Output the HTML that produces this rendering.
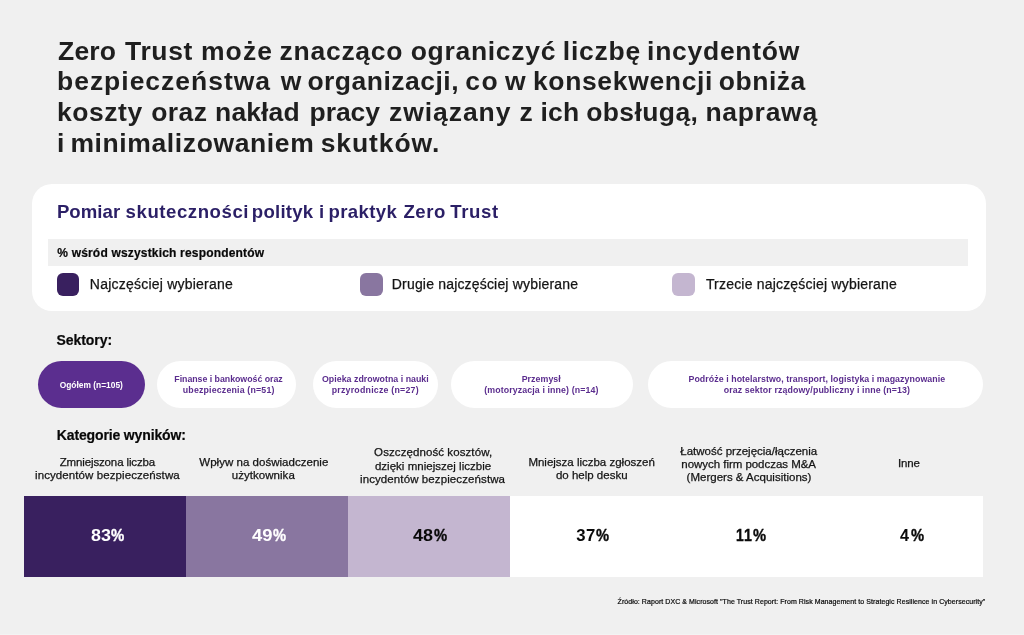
<!DOCTYPE html>
<html lang="pl">
<head>
<meta charset="utf-8">
<title>Zero Trust</title>
<style>
html,body{margin:0;padding:0}
body{width:1024px;height:635px;background:#f0f0f0;position:relative;overflow:hidden;font-family:"Liberation Sans",sans-serif}
.t{position:absolute;white-space:pre;line-height:1;font-kerning:normal}
.b{position:absolute}
.w{margin:0;padding:0;font:inherit;list-style:none;display:block}
.card{left:31.5px;top:183.5px;width:954.5px;height:127.2px;background:#fff;border-radius:20px}
.strip{left:48px;top:238.6px;width:920px;height:27px;background:#f0f0f0}
.sw{width:22.8px;height:22.7px;top:273.1px;border-radius:6px}
.pill{top:361.2px;height:46.6px;border-radius:24px;background:#fff}
.bar{top:495.5px;height:81.2px}
</style>
</head>
<body>
<div class="b card"></div>
<div class="b strip"></div>
<div class="b sw" style="left:56.7px;background:#39205f"></div>
<div class="b sw" style="left:359.8px;background:#8976a0"></div>
<div class="b sw" style="left:672.1px;background:#c4b6d0"></div>
<div class="b pill" style="left:38.4px;width:107px;background:#5b2e8f"></div>
<div class="b pill" style="left:157.2px;width:138.9px"></div>
<div class="b pill" style="left:312.6px;width:125px"></div>
<div class="b pill" style="left:451.1px;width:181.9px"></div>
<div class="b pill" style="left:647.7px;width:335.1px"></div>
<div class="b bar" style="left:24.4px;width:161.6px;background:#39205f"></div>
<div class="b bar" style="left:186px;width:161.6px;background:#8976a0"></div>
<div class="b bar" style="left:347.6px;width:162.8px;background:#c4b6d0"></div>
<div class="b bar" style="left:510.4px;width:473px;background:#fff"></div>
<div class="b" style="left:0;top:634px;width:1024px;height:1px;background:#f3f3f3"></div>
<h1 class="w">
<span class="t" style="left:58.10px;top:36px;line-height:30px;font-size:26.5px;font-weight:700;color:#1f1f1f;letter-spacing:0.154px">Zero </span>
<span class="t" style="left:125.00px;top:36px;line-height:30px;font-size:26.5px;font-weight:700;color:#1f1f1f;letter-spacing:0.659px">Trust </span>
<span class="t" style="left:200.90px;top:36px;line-height:30px;font-size:26.5px;font-weight:700;color:#1f1f1f;letter-spacing:1.133px">może </span>
<span class="t" style="left:279.60px;top:36px;line-height:30px;font-size:26.5px;font-weight:700;color:#1f1f1f;letter-spacing:0.723px">znacząco </span>
<span class="t" style="left:410.70px;top:36px;line-height:30px;font-size:26.5px;font-weight:700;color:#1f1f1f;letter-spacing:0.700px">ograniczyć </span>
<span class="t" style="left:562.75px;top:36px;line-height:30px;font-size:26.5px;font-weight:700;color:#1f1f1f;letter-spacing:0.770px">liczbę </span>
<span class="t" style="left:647.10px;top:36px;line-height:30px;font-size:26.5px;font-weight:700;color:#1f1f1f;letter-spacing:0.717px">incydentów</span>
<span class="t" style="left:57.00px;top:66px;line-height:30px;font-size:26.5px;font-weight:700;color:#1f1f1f;letter-spacing:0.981px">bezpieczeństwa </span>
<span class="t" style="left:280.85px;top:66px;line-height:30px;font-size:26.5px;font-weight:700;color:#1f1f1f;">w </span>
<span class="t" style="left:307.40px;top:66px;line-height:30px;font-size:26.5px;font-weight:700;color:#1f1f1f;letter-spacing:0.489px">organizacji, </span>
<span class="t" style="left:465.20px;top:66px;line-height:30px;font-size:26.5px;font-weight:700;color:#1f1f1f;letter-spacing:1.562px">co </span>
<span class="t" style="left:505.05px;top:66px;line-height:30px;font-size:26.5px;font-weight:700;color:#1f1f1f;">w </span>
<span class="t" style="left:532.90px;top:66px;line-height:30px;font-size:26.5px;font-weight:700;color:#1f1f1f;letter-spacing:0.658px">konsekwencji </span>
<span class="t" style="left:718.70px;top:66px;line-height:30px;font-size:26.5px;font-weight:700;color:#1f1f1f;letter-spacing:0.545px">obniża</span>
<span class="t" style="left:57.10px;top:97px;line-height:30px;font-size:26.5px;font-weight:700;color:#1f1f1f;letter-spacing:0.512px">koszty </span>
<span class="t" style="left:151.20px;top:97px;line-height:30px;font-size:26.5px;font-weight:700;color:#1f1f1f;letter-spacing:0.421px">oraz </span>
<span class="t" style="left:215.10px;top:97px;line-height:30px;font-size:26.5px;font-weight:700;color:#1f1f1f;letter-spacing:0.107px">nakład </span>
<span class="t" style="left:309.50px;top:97px;line-height:30px;font-size:26.5px;font-weight:700;color:#1f1f1f;letter-spacing:-0.044px">pracy </span>
<span class="t" style="left:389.10px;top:97px;line-height:30px;font-size:26.5px;font-weight:700;color:#1f1f1f;letter-spacing:0.923px">związany </span>
<span class="t" style="left:519.55px;top:97px;line-height:30px;font-size:26.5px;font-weight:700;color:#1f1f1f;">z </span>
<span class="t" style="left:540.40px;top:97px;line-height:30px;font-size:26.5px;font-weight:700;color:#1f1f1f;letter-spacing:0.300px">ich </span>
<span class="t" style="left:586.20px;top:97px;line-height:30px;font-size:26.5px;font-weight:700;color:#1f1f1f;letter-spacing:0.402px">obsługą, </span>
<span class="t" style="left:705.40px;top:97px;line-height:30px;font-size:26.5px;font-weight:700;color:#1f1f1f;letter-spacing:0.704px">naprawą</span>
<span class="t" style="left:56.95px;top:128px;line-height:30px;font-size:26.5px;font-weight:700;color:#1f1f1f;">i </span>
<span class="t" style="left:70.40px;top:128px;line-height:30px;font-size:26.5px;font-weight:700;color:#1f1f1f;letter-spacing:0.615px">minimalizowaniem </span>
<span class="t" style="left:320.70px;top:128px;line-height:30px;font-size:26.5px;font-weight:700;color:#1f1f1f;letter-spacing:0.894px">skutków.</span>
</h1>
<h2 class="w">
<span class="t" style="left:56.90px;top:201px;line-height:21px;font-size:18.6px;font-weight:700;color:#2b1f66;letter-spacing:0.060px">Pomiar </span>
<span class="t" style="left:125.60px;top:201px;line-height:21px;font-size:18.6px;font-weight:700;color:#2b1f66;letter-spacing:0.554px">skuteczności </span>
<span class="t" style="left:251.85px;top:201px;line-height:21px;font-size:18.6px;font-weight:700;color:#2b1f66;letter-spacing:0.228px">polityk </span>
<span class="t" style="left:319.10px;top:201px;line-height:21px;font-size:18.6px;font-weight:700;color:#2b1f66;">i </span>
<span class="t" style="left:328.40px;top:201px;line-height:21px;font-size:18.6px;font-weight:700;color:#2b1f66;letter-spacing:0.399px">praktyk </span>
<span class="t" style="left:403.40px;top:201px;line-height:21px;font-size:18.6px;font-weight:700;color:#2b1f66;letter-spacing:0.555px">Zero </span>
<span class="t" style="left:450.30px;top:201px;line-height:21px;font-size:18.6px;font-weight:700;color:#2b1f66;letter-spacing:0.608px">Trust</span>
</h2>
<p class="w">
<span class="t" style="left:57.30px;top:246px;line-height:14px;font-size:12px;font-weight:700;color:#080808;letter-spacing:0.179px;-webkit-text-stroke:0.2px">% wśród wszystkich respondentów</span>
</p>
<ul class="w">
<span class="t" style="left:89.80px;top:276px;line-height:16px;font-size:14px;font-weight:400;color:#141414;letter-spacing:0.224px;-webkit-text-stroke:0.25px">Najczęściej wybierane</span>
<span class="t" style="left:391.80px;top:276px;line-height:16px;font-size:14px;font-weight:400;color:#141414;letter-spacing:0.181px;-webkit-text-stroke:0.25px">Drugie najczęściej wybierane</span>
<span class="t" style="left:705.90px;top:276px;line-height:16px;font-size:14px;font-weight:400;color:#141414;letter-spacing:0.194px;-webkit-text-stroke:0.25px">Trzecie najczęściej wybierane</span>
</ul>
<h3 class="w">
<span class="t" style="left:56.60px;top:332px;line-height:16px;font-size:14px;font-weight:700;color:#080808;letter-spacing:-0.080px;-webkit-text-stroke:0.2px">Sektory:</span>
</h3>
<h3 class="w">
<span class="t" style="left:56.80px;top:427px;line-height:16px;font-size:14px;font-weight:700;color:#080808;letter-spacing:-0.142px;-webkit-text-stroke:0.2px">Kategorie wyników:</span>
</h3>
<nav class="w">
<span class="t" style="left:59.70px;top:380px;line-height:10px;font-size:8.4px;font-weight:700;color:#ffffff;letter-spacing:0.010px">Ogółem (n=105)</span>
<span class="t" style="left:174.30px;top:374px;line-height:10px;font-size:8.8px;font-weight:700;color:#5b2d8e;letter-spacing:-0.027px">Finanse i bankowość oraz</span>
<span class="t" style="left:182.80px;top:385px;line-height:10px;font-size:8.8px;font-weight:700;color:#5b2d8e;letter-spacing:0.178px">ubezpieczenia (n=51)</span>
<span class="t" style="left:322.00px;top:374px;line-height:10px;font-size:8.8px;font-weight:700;color:#5b2d8e;letter-spacing:0.029px">Opieka zdrowotna i nauki</span>
<span class="t" style="left:331.70px;top:385px;line-height:10px;font-size:8.8px;font-weight:700;color:#5b2d8e;letter-spacing:0.226px">przyrodnicze (n=27)</span>
<span class="t" style="left:521.70px;top:374px;line-height:10px;font-size:8.8px;font-weight:700;color:#5b2d8e;letter-spacing:0.059px">Przemysł</span>
<span class="t" style="left:484.20px;top:385px;line-height:10px;font-size:8.8px;font-weight:700;color:#5b2d8e;letter-spacing:0.116px">(motoryzacja i inne) (n=14)</span>
<span class="t" style="left:688.50px;top:374px;line-height:10px;font-size:8.8px;font-weight:700;color:#5b2d8e;letter-spacing:0.067px">Podróże i hotelarstwo, transport, logistyka i magazynowanie</span>
<span class="t" style="left:723.70px;top:385px;line-height:10px;font-size:8.8px;font-weight:700;color:#5b2d8e;letter-spacing:0.110px">oraz sektor rządowy/publiczny i inne (n=13)</span>
</nav>
<section class="w">
<span class="t" style="left:59.70px;top:456px;line-height:12px;font-size:11.5px;font-weight:400;color:#141414;letter-spacing:-0.135px;-webkit-text-stroke:0.25px">Zmniejszona liczba</span>
<span class="t" style="left:35.00px;top:469px;line-height:12px;font-size:11.5px;font-weight:400;color:#141414;letter-spacing:0.089px;-webkit-text-stroke:0.25px">incydentów bezpieczeństwa</span>
<span class="t" style="left:199.30px;top:456px;line-height:12px;font-size:11.5px;font-weight:400;color:#141414;letter-spacing:0.025px;-webkit-text-stroke:0.25px">Wpływ na doświadczenie</span>
<span class="t" style="left:231.80px;top:469px;line-height:12px;font-size:11.5px;font-weight:400;color:#141414;letter-spacing:0.036px;-webkit-text-stroke:0.25px">użytkownika</span>
<span class="t" style="left:374.10px;top:446px;line-height:12px;font-size:11.5px;font-weight:400;color:#141414;letter-spacing:0.088px;-webkit-text-stroke:0.25px">Oszczędność kosztów,</span>
<span class="t" style="left:374.90px;top:460px;line-height:12px;font-size:11.5px;font-weight:400;color:#141414;letter-spacing:0.027px;-webkit-text-stroke:0.25px">dzięki mniejszej liczbie</span>
<span class="t" style="left:360.00px;top:473px;line-height:12px;font-size:11.5px;font-weight:400;color:#141414;letter-spacing:0.102px;-webkit-text-stroke:0.25px">incydentów bezpieczeństwa</span>
<span class="t" style="left:528.40px;top:456px;line-height:12px;font-size:11.5px;font-weight:400;color:#141414;letter-spacing:-0.007px;-webkit-text-stroke:0.25px">Mniejsza liczba zgłoszeń</span>
<span class="t" style="left:555.90px;top:469px;line-height:12px;font-size:11.5px;font-weight:400;color:#141414;letter-spacing:0.007px;-webkit-text-stroke:0.25px">do help desku</span>
<span class="t" style="left:680.30px;top:445px;line-height:12px;font-size:11.5px;font-weight:400;color:#141414;letter-spacing:0.004px;-webkit-text-stroke:0.25px">Łatwość przejęcia/łączenia</span>
<span class="t" style="left:681.30px;top:458px;line-height:12px;font-size:11.5px;font-weight:400;color:#141414;letter-spacing:-0.037px;-webkit-text-stroke:0.25px">nowych firm podczas M&amp;A</span>
<span class="t" style="left:686.60px;top:471px;line-height:12px;font-size:11.5px;font-weight:400;color:#141414;letter-spacing:0.007px;-webkit-text-stroke:0.25px">(Mergers &amp; Acquisitions)</span>
<span class="t" style="left:898.00px;top:457px;line-height:12px;font-size:11.5px;font-weight:400;color:#141414;letter-spacing:-0.196px;-webkit-text-stroke:0.25px">Inne</span>
</section>
<section class="w">
<span class="t" style="left:90.50px;top:526px;line-height:19px;font-size:16.7px;font-weight:700;color:#ffffff;transform:scaleX(1.0722);transform-origin:0 0">83</span>
<span class="t" style="left:111.30px;top:526px;line-height:19px;font-size:16.7px;font-weight:700;color:#ffffff;transform:scaleX(0.8933);transform-origin:0 0;-webkit-text-stroke:0.4px">%</span>
<span class="t" style="left:251.80px;top:526px;line-height:19px;font-size:16.7px;font-weight:700;color:#ffffff;transform:scaleX(1.1050);transform-origin:0 0">49</span>
<span class="t" style="left:273.00px;top:526px;line-height:19px;font-size:16.7px;font-weight:700;color:#ffffff;transform:scaleX(0.8800);transform-origin:0 0;-webkit-text-stroke:0.4px">%</span>
<span class="t" style="left:413.40px;top:526px;line-height:19px;font-size:16.7px;font-weight:700;color:#0a0a0a;transform:scaleX(1.0776);transform-origin:0 0">48</span>
<span class="t" style="left:434.15px;top:526px;line-height:19px;font-size:16.7px;font-weight:700;color:#0a0a0a;transform:scaleX(0.8867);transform-origin:0 0;-webkit-text-stroke:0.4px">%</span>
<span class="t" style="left:576.35px;top:526px;line-height:19px;font-size:16.7px;font-weight:700;color:#0a0a0a;letter-spacing:0.469px">37</span>
<span class="t" style="left:596.10px;top:526px;line-height:19px;font-size:16.7px;font-weight:700;color:#0a0a0a;transform:scaleX(0.8800);transform-origin:0 0;-webkit-text-stroke:0.4px">%</span>
<span class="t" style="left:736.09px;top:526px;line-height:19px;font-size:16.7px;font-weight:700;color:#0a0a0a;transform:scaleX(0.8312);transform-origin:0 0;-webkit-text-stroke:0.4px">1</span>
<span class="t" style="left:743.75px;top:526px;line-height:19px;font-size:16.7px;font-weight:700;color:#0a0a0a;transform:scaleX(0.8500);transform-origin:0 0;-webkit-text-stroke:0.4px">1</span>
<span class="t" style="left:753.10px;top:526px;line-height:19px;font-size:16.7px;font-weight:700;color:#0a0a0a;transform:scaleX(0.8800);transform-origin:0 0;-webkit-text-stroke:0.4px">%</span>
<span class="t" style="left:900.29px;top:526px;line-height:19px;font-size:16.7px;font-weight:700;color:#0a0a0a;transform:scaleX(0.9675);transform-origin:0 0">4</span>
<span class="t" style="left:911.12px;top:526px;line-height:19px;font-size:16.7px;font-weight:700;color:#0a0a0a;transform:scaleX(0.8833);transform-origin:0 0;-webkit-text-stroke:0.4px">%</span>
</section>
<footer class="w">
<span class="t" style="left:617.60px;top:598px;line-height:7px;font-size:7px;font-weight:400;color:#080808;letter-spacing:0.068px;-webkit-text-stroke:0.25px;-webkit-text-stroke:0.2px">Źródło: Raport DXC &amp; Microsoft "The Trust Report: From Risk Management to Strategic Resilience in Cybersecurity"</span>
</footer>
</body>
</html>
